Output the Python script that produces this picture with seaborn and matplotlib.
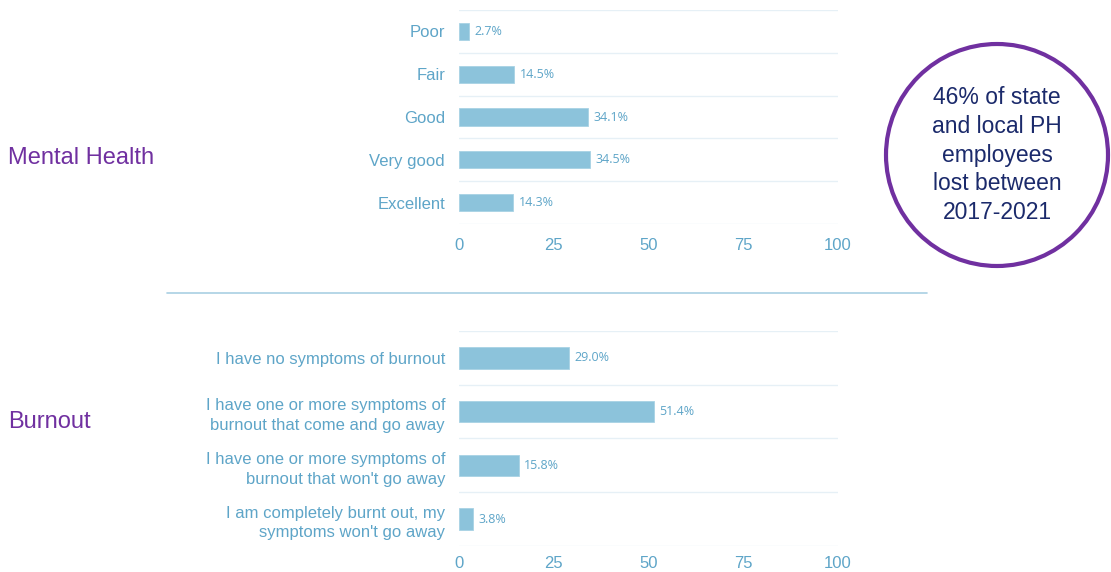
import matplotlib
matplotlib.use("Agg")
import matplotlib.pyplot as plt
import seaborn as sns
import pandas as pd
from matplotlib.patches import Ellipse
from matplotlib.lines import Line2D

mh_categories = ["Poor", "Fair", "Good", "Very good", "Excellent"]
mh_values = [2.7, 14.5, 34.1, 34.5, 14.3]

bo_categories = [
    "I have no symptoms of burnout",
    "I have one or more symptoms of\nburnout that come and go away",
    "I have one or more symptoms of\nburnout that won't go away",
    "I am completely burnt out, my\nsymptoms won't go away",
]
bo_values = [29.0, 51.4, 15.8, 3.8]

x_ticks = [0, 25, 50, 75, 100]
section_titles = ["Mental Health", "Burnout"]
callout = "46% of state\nand local PH\nemployees\nlost between\n2017-2021"

sns.set_theme(style="white")
plt.rcParams['font.family'] = ['Liberation Sans', 'DejaVu Sans']

BAR = "#8cc3db"
TXT = "#5ea5c8"
GRID = "#e6f0f6"
PURPLE = "#7030a0"
NAVY = "#1b2a6b"

fig = plt.figure(figsize=(11.11, 5.72), dpi=100)
fig.patch.set_facecolor("white")

ax1 = fig.add_axes([0.4131, 0.6084, 0.3411, 0.3741])
ax2 = fig.add_axes([0.4131, 0.0455, 0.3411, 0.3759])


def draw(ax, cats, vals, xpad):
    df = pd.DataFrame({"cat": cats, "val": vals})
    sns.barplot(data=df, x="val", y="cat", orient="h", color=BAR,
                width=0.4, saturation=1, ax=ax, edgecolor="#a8d2e4", linewidth=0.6)
    n = len(cats)
    ax.set_xlim(0, 100)
    ax.set_ylim(n - 0.5, -0.5)
    ax.set_xticks(x_ticks)
    ax.set_xticklabels([str(t) for t in x_ticks])
    ax.set_yticks(range(n))
    ax.set_yticks([i - 0.5 for i in range(n + 1)], minor=True)
    ax.grid(False)
    ax.grid(True, which="minor", axis="y", color=GRID, linewidth=1.0)
    ax.set_axisbelow(True)
    for s in ax.spines.values():
        s.set_visible(False)
    ax.tick_params(axis="x", which="both", length=0, pad=xpad, labelsize=12, labelcolor=TXT)
    ax.tick_params(axis="y", which="both", length=0, pad=10, labelsize=12, labelcolor=TXT)
    ax.set_xlabel("")
    ax.set_ylabel("")
    for c in ax.containers:
        ax.bar_label(c, labels=[f"{v:.1f}%" for v in vals], padding=4,
                     fontsize=9, color=TXT, family=["Open Sans", "DejaVu Sans"])


draw(ax1, mh_categories, mh_values, 10)
draw(ax2, bo_categories, bo_values, 7.5)
for lab in ax2.get_yticklabels():
    lab.set_linespacing(1.4)

fig.text(8 / 1111, 1 - 158 / 572, section_titles[0], fontsize=17, color=PURPLE,
         ha="left", va="center")
fig.text(8 / 1111, 1 - 422 / 572, section_titles[1], fontsize=17, color=PURPLE,
         ha="left", va="center")

fig.add_artist(Line2D([167 / 1111, 927 / 1111], [1 - 293 / 572, 1 - 293 / 572],
                      transform=fig.transFigure, color="#a9d0e3", linewidth=1.2))

cx, cy, r = 997, 155, 111
fig.add_artist(Ellipse((cx / 1111, 1 - cy / 572), 2 * r / 1111, 2 * r / 572,
                       transform=fig.transFigure, fill=False, edgecolor=PURPLE,
                       linewidth=3))
fig.text(cx / 1111, 1 - cy / 572, callout, fontsize=16.5, color=NAVY,
         ha="center", va="center", linespacing=1.32)

fig.savefig("out.png", dpi=100, facecolor="white")
